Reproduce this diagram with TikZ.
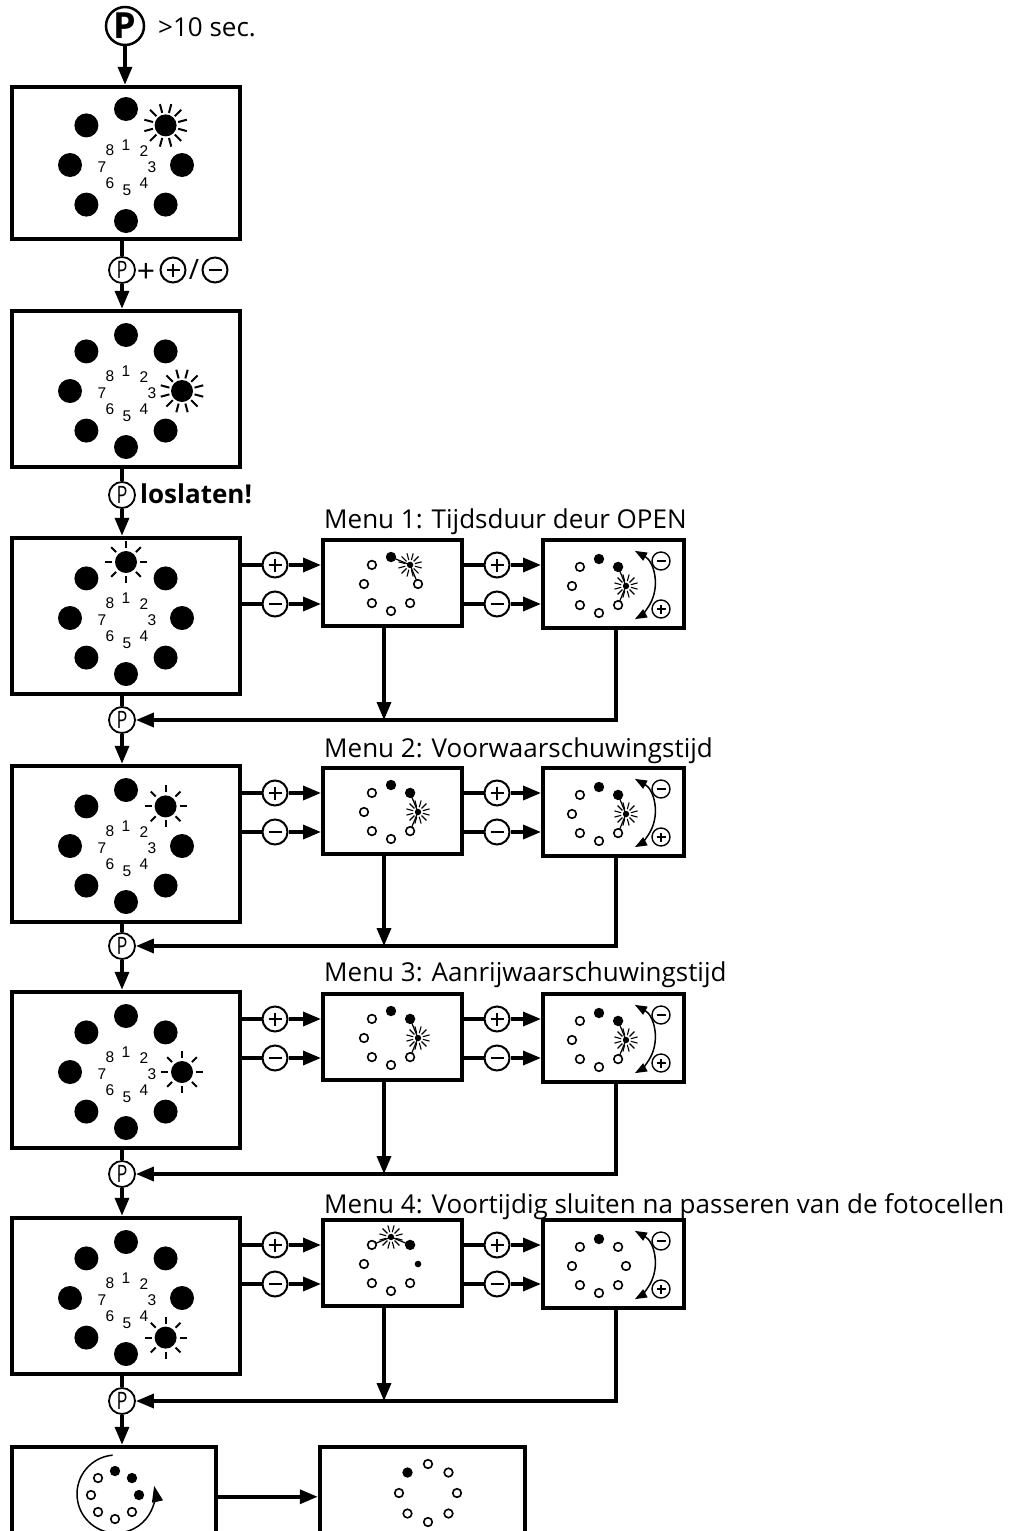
\documentclass[tikz,border=0pt]{standalone}
\usepackage{fontspec}
\setmainfont{Open Sans}
\newfontfamily\digfont{Liberation Sans}
\usetikzlibrary{arrows.meta,calc}
\newcommand\labfont{\fontsize{26}{30}\selectfont}
\newcommand\Pc{\scalebox{0.75}[1]{P}}

\tikzset{
 bigbox/.style={draw,line width=4.5pt,minimum width=228pt,minimum height=156pt,inner sep=0pt},
 smallbox/.style={draw,line width=4pt,inner sep=0pt},
 conn/.style={line width=3.5pt},
 arr/.style={-{Triangle[length=18pt,width=14pt]}},
 pc/.style={circle,draw,line width=2pt,fill=white,minimum size=25pt,inner sep=0pt},
 plusc/.style={pc,path picture={\draw[line width=1.6pt] ($(path picture bounding box.center)+(-6.5,0)$) -- ++(13,0) ($(path picture bounding box.center)+(0,-6.5)$) -- ++(0,13);}},
 minusc/.style={pc,path picture={\draw[line width=1.6pt] ($(path picture bounding box.center)+(-6.5,0)$) -- ++(13,0);}},
 spc/.style={circle,draw,line width=1.4pt,fill=white,minimum size=18pt,inner sep=0pt},
 splus/.style={spc,path picture={\draw[line width=1.2pt] ($(path picture bounding box.center)+(-4.5,0)$) -- ++(9,0) ($(path picture bounding box.center)+(0,-4.5)$) -- ++(0,9);}},
 sminus/.style={spc,path picture={\draw[line width=1.2pt] ($(path picture bounding box.center)+(-4.5,0)$) -- ++(9,0);}},
 pnode/.style={circle,draw,line width=1.8pt,fill=white,minimum size=26pt,inner sep=0pt,font=\fontsize{24}{24}\selectfont},
 digit/.style={inner sep=0pt,font=\digfont\fontsize{15.5}{15.5}\selectfont},
 twoarc/.style={line width=1.5pt,{Triangle[length=12pt,width=9pt]}-{Triangle[length=12pt,width=9pt]}},
}

% #1 center, #2 star index, #3 number of rays, #4 ray offset, #5 ray inner radius, #6 ray length
\newcommand{\BigRing}[6]{%
\begin{scope}[shift={#1}]
\foreach \k/\lx/\ly in {1/0/-20,2/18/-14,3/26/2,4/18/18,5/1/25,6/-16/18,7/-24/2,8/-16/-15}{
 \node[digit] at (\lx,\ly) {\k};
 \pgfmathsetmacro\ang{-90+45*(\k-1)}
 \ifnum\k=#2\relax
  \fill (\ang:56) circle[radius=11];
  \foreach \j in {1,...,#3}{\draw[line width=2pt] (\ang:56) ++({#4+360/#3*\j}:#5) -- ++({#4+360/#3*\j}:#6);}
 \else
  \fill (\ang:56) circle[radius=12];
 \fi
}
\end{scope}}

% #1 center, #2 radius, #3 spec list k/type (o open, f filled, d small filled, s star)
\newcommand{\SmallRing}[3]{%
\begin{scope}[shift={#1}]
\foreach \k/\typ in {#3}{
 \pgfmathsetmacro\ang{-90+45*(\k-1)}
 \if\typ s\draw[line width=1.2pt] ({\ang-45}:#2) -- (\ang:#2) -- ({\ang+45}:#2);\fi
}
\foreach \k/\typ in {#3}{
 \pgfmathsetmacro\ang{-90+45*(\k-1)}
 \if\typ o\draw[line width=1.6pt,fill=white] (\ang:#2) circle[radius=4.3];\fi
 \if\typ f\fill (\ang:#2) circle[radius=5.2];\fi
 \if\typ d\fill (\ang:#2) circle[radius=3.3];\fi
 \if\typ s\fill (\ang:#2) circle[radius=3.2];
   \foreach \j in {1,...,12}{\draw[line width=1.1pt] (\ang:#2) ++({\j*30+15}:5) -- ++({\j*30+15}:7);}\fi
}
\end{scope}}

% #1 top, #2 name, #3 star, #4 label, #5 label baseline, #6 spec A, #7 spec B, #8 P line y
\newcommand{\MenuRow}[8]{%
 \node[bigbox] (#2) at (126,#1+78) {};
 \BigRing{(126,#1+80)}{#3}{8}{0}{14}{7}
 \node[anchor=base west,inner sep=0pt,font=\labfont] (#2lab) at (324,#5) {#4};
 \node[smallbox,minimum width=139pt,minimum height=86pt] (#2a) at (392.5,#1+45) {};
 \node[smallbox,minimum width=141pt,minimum height=88pt] (#2b) at (613.5,#1+46) {};
 \SmallRing{(391,#1+46)}{27}{#6}
 \SmallRing{(599,#1+48)}{27}{#7}
 \draw[twoarc] (616,#1+47) ++(-61:39) arc[start angle=-61,end angle=61,radius=39];
 \node[sminus] (#2sm) at (661,#1+23) {};
 \node[splus] (#2sp) at (661,#1+71) {};
 \node[plusc] (#2p1) at (275,#1+27) {};
 \node[minusc] (#2m1) at (275,#1+66) {};
 \node[plusc] (#2p2) at (497,#1+27) {};
 \node[minusc] (#2m2) at (497,#1+66) {};
 \draw[conn] (#2.east |- #2p1) -- (#2p1);
 \draw[conn,arr] (#2p1) -- (#2p1 -| #2a.west);
 \draw[conn] (#2.east |- #2m1) -- (#2m1);
 \draw[conn,arr] (#2m1) -- (#2m1 -| #2a.west);
 \draw[conn] (#2a.east |- #2p2) -- (#2p2);
 \draw[conn,arr] (#2p2) -- (#2p2 -| #2b.west);
 \draw[conn] (#2a.east |- #2m2) -- (#2m2);
 \draw[conn,arr] (#2m2) -- (#2m2 -| #2b.west);
 \node[pnode] (#2P) at (122,#8) {\Pc};
 \draw[conn] (#2.south -| #2P) -- (#2P);
 \coordinate (#2ax) at ($(#2a.south)+(-8.5,0)$);
 \coordinate (#2bx) at ($(#2b.south)+(2.5,0)$);
 \draw[conn,arr] (#2ax) -- (#2ax |- #2P);
 \draw[conn,arr] (#2bx) |- (#2P);
}

\begin{document}
\begin{tikzpicture}[x=1pt,y=-1pt]
\useasboundingbox (0,0) rectangle (1010,1531);
\clip (0,0) rectangle (1010,1531);
\fill[white] (0,0) rectangle (1010,1531);

% top
\node[circle,draw,line width=2.5pt,minimum size=38pt,inner sep=0pt,font=\bfseries\fontsize{36}{36}\selectfont] (ptop) at (125,26) {P};
\node[anchor=west,inner sep=0pt,font=\labfont] (sec) at (158,27) {>10 sec.};

\node[bigbox,minimum height=152pt] (mA) at (126,163) {};
\BigRing{(126,165)}{2}{12}{15}{13}{9}
\draw[conn,arr] (ptop) -- (ptop |- mA.north);

\node[pnode] (lp) at (122,270) {\Pc};
\node[inner sep=0pt,font=\fontsize{32}{32}\selectfont] (lplus) at (146,273) {+};
\node[plusc] (lpc) at (173,270) {};
\node[inner sep=0pt,font=\fontsize{28}{28}\selectfont] (lsl) at (194,270) {/};
\node[minusc] (lmc) at (215,270) {};
\draw[conn] (mA.south -| lp) -- (lp);

\node[bigbox] (mB) at (126,389) {};
\BigRing{(126,391)}{3}{12}{15}{13}{9}
\draw[conn,arr] (lp) -- (lp |- mB.north);

\node[pnode] (lp2) at (122,495) {\Pc};
\node[anchor=west,inner sep=0pt,font=\bfseries\labfont] (los) at (140,494) {loslaten!};
\draw[conn] (mB.south -| lp2) -- (lp2);

\MenuRow{538}{m1}{1}{Menu 1: Tijdsduur deur OPEN}{528}{1/f,2/s,3/o,4/o,5/o,6/o,7/o,8/o}{1/f,2/f,3/s,4/o,5/o,6/o,7/o,8/o}{720}
\draw[conn,arr] (lp2) -- (lp2 |- m1.north);
\MenuRow{766}{m2}{2}{Menu 2: Voorwaarschuwingstijd}{757}{1/f,2/f,3/s,4/o,5/o,6/o,7/o,8/o}{1/f,2/f,3/s,4/o,5/o,6/o,7/o,8/o}{946}
\draw[conn,arr] (m1P) -- (m1P |- m2.north);
\MenuRow{992}{m3}{3}{Menu 3: Aanrijwaarschuwingstijd}{981}{1/f,2/f,3/s,4/o,5/o,6/o,7/o,8/o}{1/f,2/f,3/s,4/o,5/o,6/o,7/o,8/o}{1174}
\draw[conn,arr] (m2P) -- (m2P |- m3.north);
\MenuRow{1218}{m4}{4}{Menu 4: Voortijdig sluiten na passeren van de fotocellen}{1213}{1/s,2/f,3/d,4/o,5/o,6/o,7/o,8/o}{1/f,2/o,3/o,4/o,5/o,6/o,7/o,8/o}{1401}
\draw[conn,arr] (m3P) -- (m3P |- m4.north);

% bottom
\node[bigbox,minimum width=204pt,minimum height=200pt] (bl) at (114,1547) {};
\node[bigbox,minimum width=205pt,minimum height=200pt] (br) at (422.5,1547) {};
\draw[conn,arr] (m4P) -- (m4P |- bl.north);
\draw[conn,arr] ($(bl.north east)+(0,52)$) -- ($(br.north west)+(0,52)$);
\SmallRing{(115,1495)}{24}{1/f,2/f,3/f,4/o,5/o,6/o,7/o,8/o}
\draw[line width=1.5pt,-{Triangle[length=16pt,width=11pt]}] (116,1494) ++(-95:39) arc[start angle=-95,end angle=-372,radius=39];
\SmallRing{(428,1493)}{29}{1/o,2/o,3/o,4/o,5/o,6/o,7/o,8/f}
\end{tikzpicture}
\end{document}
